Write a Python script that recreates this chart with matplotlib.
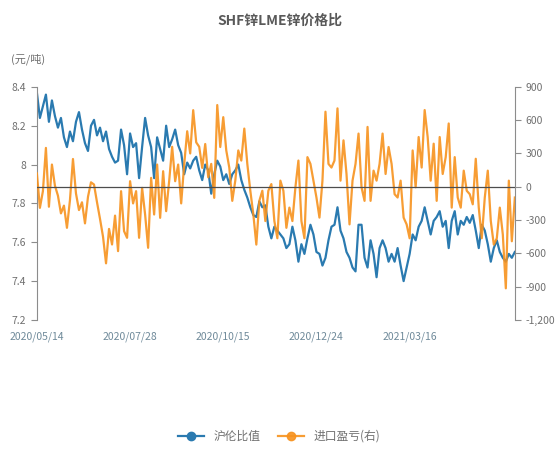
import matplotlib.pyplot as plt
from matplotlib.ticker import FuncFormatter

plt.rcParams['font.family'] = ['Noto Sans CJK SC', 'DejaVu Sans']

# 沪伦比值 (左轴)
ratio = [8.37, 8.24, 8.30, 8.36, 8.22, 8.33, 8.25, 8.19, 8.24, 8.14, 8.09, 8.17, 8.12, 8.22, 8.27,
         8.18, 8.11, 8.07, 8.20, 8.23, 8.15, 8.19, 8.12, 8.17, 8.08, 8.04, 8.01,
         8.02, 8.18, 8.10, 7.95, 8.16, 8.09, 8.11, 7.93, 8.09, 8.24, 8.15, 8.09, 7.93, 8.14,
         8.08, 8.02, 8.20, 8.09, 8.13, 8.18, 8.10, 8.06, 7.95, 8.01, 7.98, 8.02, 8.04,
         7.97, 7.92, 8.00, 7.97, 7.85, 7.95, 8.02, 7.99, 7.92, 7.95, 7.90, 7.95, 7.97, 8.00,
         7.92, 7.87, 7.83, 7.78, 7.74, 7.73, 7.81, 7.78, 7.79, 7.68, 7.62, 7.68, 7.66,
         7.64, 7.62, 7.57, 7.59, 7.68, 7.61, 7.50, 7.59, 7.54, 7.62, 7.69, 7.64, 7.55, 7.54,
         7.48, 7.52, 7.61, 7.68, 7.69, 7.78, 7.66, 7.62, 7.55, 7.52, 7.47, 7.45, 7.69,
         7.69, 7.52, 7.47, 7.61, 7.54, 7.42, 7.57, 7.61, 7.57, 7.50, 7.54, 7.50, 7.57, 7.48,
         7.40, 7.47, 7.54, 7.64, 7.61, 7.68, 7.71, 7.78, 7.71, 7.64, 7.71, 7.73, 7.76,
         7.68, 7.71, 7.57, 7.71, 7.76, 7.64, 7.71, 7.69, 7.73, 7.70, 7.74, 7.66, 7.57, 7.69,
         7.66, 7.59, 7.50, 7.57, 7.61, 7.55, 7.52, 7.50, 7.54, 7.52, 7.55]

# 进口盈亏 (右轴, 元/吨)
profit = [120, -190, -40, 350, -180, 200, 10, -80, -240, -170, -370, -120, 250, -60, -210,
          -140, -330, -90, 40, 20, -140, -290, -450, -690, -380, -520, -260,
          -580, -40, -400, -460, 50, -150, -40, -460, -10, -250, -550, 80, -250, 200,
          -280, 140, -220, 50, 360, 50, 200, -150, 200, 500, 300, 690, 400,
          360, 170, 385, 85, 206, -100, 736, 358, 627, 327, 173, -127, 55, 327,
          236, 524, 206, -36, -248, -521, -127, -36, -309, -36, 24, -309, -464,
          55, -36, -370, -188, -309, -5, 236, -309, -464, 267, 206, 55, -97, -278,
          55, 676, 206, 173, 236, 706, 55, 418, 115, -339, 55, 206, 479,
          -5, -127, 539, -127, 145, 55, 206, 479, 115, 358, 206, -67, -97, 55,
          -278, -339, -464, 327, -5, 448, 173, 691, 448, 55, 388, -127, 448,
          115, 267, 570, -188, 267, -97, -188, 145, -36, -67, -158, 252, -188, -464,
          -97, 145, -309, -521, -464, -188, -430, -915, 55, -491, -97]

tick_labels = ['2020/05/14', '2020/07/28', '2020/10/15', '2020/12/24', '2021/03/16']

n = len(ratio)
x = list(range(n))
step = 31

fig = plt.figure(figsize=(5.59, 4.5), dpi=100)
ax = fig.add_axes([0.066, 0.289, 0.855, 0.518])
ax2 = ax.twinx()

grey = '#8c8c8c'
l1, = ax.plot(x, ratio, color='#2a7ab0', lw=1.6, label='沪伦比值', zorder=2)
l2, = ax2.plot(x, profit, color='#f7921e', lw=1.6, alpha=0.9, label='进口盈亏(右)')
ax2.axhline(0, color='#4d4d4d', lw=0.9, zorder=3)

ax.set_zorder(ax2.get_zorder() - 1)
ax.patch.set_visible(False)

ax.set_xlim(0, n - 1)
ax.set_ylim(7.2, 8.4)
ax.set_yticks([7.2, 7.4, 7.6, 7.8, 8.0, 8.2, 8.4])
ax.yaxis.set_major_formatter(FuncFormatter(lambda v, p: f'{v:g}'))
ax2.set_ylim(-1200, 900)
ax2.set_yticks(range(-1200, 901, 300))
ax2.yaxis.set_major_formatter(FuncFormatter(lambda v, p: f'{v:,.0f}'))

ax.set_xticks(list(range(0, n, step))[:len(tick_labels)])
ax.set_xticklabels(tick_labels)

for a in (ax, ax2):
    for s in ('top', 'bottom'):
        a.spines[s].set_visible(False)
    a.tick_params(labelsize=7.5, colors=grey, length=4, width=0.8)
    a.tick_params(axis='y', labelcolor='#707070')
ax.spines['right'].set_visible(False)
ax2.spines['left'].set_visible(False)
ax.spines['left'].set_color(grey)
ax2.spines['right'].set_color(grey)
ax.tick_params(axis='x', length=0, labelcolor='#6f8a9a', pad=8)

fig.text(0.5, 0.955, 'SHF锌LME锌价格比', ha='center', va='center', fontsize=10,
         fontweight='bold', color='#595959')
fig.text(0.02, 0.868, '(元/吨)', ha='left', va='center', fontsize=8, color='#707070')

leg = fig.legend(handles=[l1, l2], loc='center', bbox_to_anchor=(0.5, 0.03), ncol=2,
                 frameon=False, fontsize=8.5, labelcolor='#707070', handlelength=2.2,
                 columnspacing=1.5)
for h, c in zip(leg.legend_handles, ['#2a7ab0', '#f7921e']):
    h.set_marker('o')
    h.set_markersize(6)
    h.set_markerfacecolor(c)
    h.set_markeredgecolor(c)

fig.savefig('out.png', dpi=100)
